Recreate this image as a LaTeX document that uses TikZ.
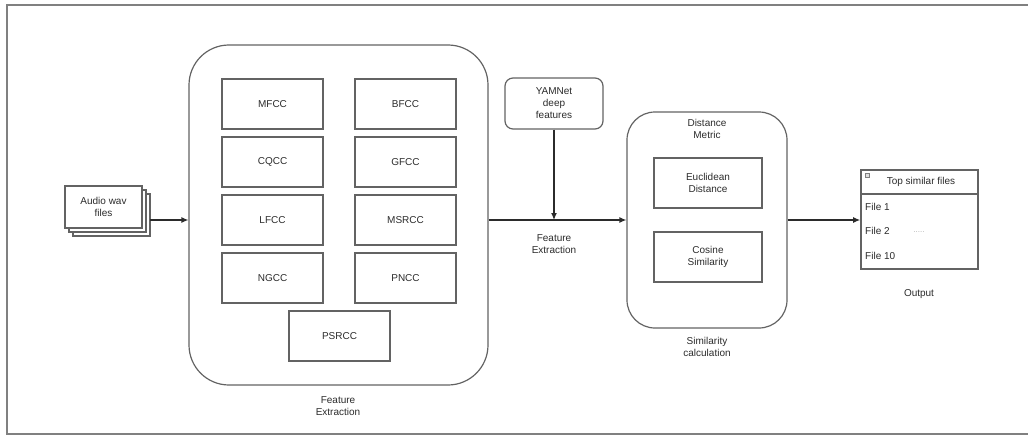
\documentclass[tikz,border=0pt]{standalone}
\usepackage{fontspec}
\setmainfont{Liberation Sans}
\usetikzlibrary{arrows.meta}
\definecolor{edge}{HTML}{636363}
\definecolor{ink}{HTML}{2B2B2B}
\tikzset{
	fbox/.style={draw=edge, line width=1.6pt, minimum width=101pt, minimum height=50pt, inner sep=0pt},
	grp/.style={draw=edge, line width=1.2pt, rounded corners=#1, inner sep=0pt},
	lbl/.style={align=center, text=ink, inner sep=0pt},
	flow/.style={draw=ink, line width=1.2pt, -{Latex[length=7pt,width=6pt]}},
}
\begin{document}
\begin{tikzpicture}[x=1pt, y=-1pt, font=\fontsize{10}{12}\selectfont]
	\useasboundingbox (0, 0) rectangle (1028, 436);
	\draw[gray, line width=1.6pt] (1030, 5) -- (7, 5) -- (7, 434) -- (1030, 434);
	\coordinate (axis) at (0, 220);

	\foreach \d in {8, 4}{
		\node[fbox, fill=white, line width=1.2pt, minimum width=77pt, minimum height=42pt] at (103.5 + \d, 207 + \d) {};
	}
	\node[fbox, fill=white, line width=1.2pt, minimum width=77pt, minimum height=42pt, align=center, text=ink] (audio) at (103.5, 207) {Audio wav\\files};
	\coordinate (audioout) at (150, 220);

	\node[grp=40pt, minimum width=299pt, minimum height=340pt] (fe) at (338.5, 215) {};
	\foreach \a/\b [count=\i] in {MFCC/BFCC, CQCC/GFCC, LFCC/MSRCC, NGCC/PNCC}{
		\node[fbox, text=ink] (l\i) at (272.5, 46 + 58*\i) {\a};
		\node[fbox, text=ink] (r\i) at (405.5, 46 + 58*\i) {\b};
	}
	\node[fbox, text=ink] (psrcc) at (339.5, 336) {PSRCC};
	\node[lbl] (felbl) at (338, 406) {Feature\\Extraction};

	\node[grp=8pt, minimum width=98pt, minimum height=51pt, align=center, text=ink] (yam) at (554, 103.5) {YAMNet\\deep\\features};
	\node[lbl] (midlbl) at (554, 244) {Feature\\Extraction};

	\node[grp=28pt, minimum width=160pt, minimum height=216pt] (dm) at (707, 220) {};
	\node[lbl] (dmlbl) at (707, 128.5) {Distance\\Metric};
	\node[fbox, line width=1.4pt, minimum width=108pt, text=ink, align=center] (euc) at (708, 183) {Euclidean\\Distance};
	\node[fbox, line width=1.4pt, minimum width=108pt, text=ink, align=center] (cos) at (708, 257) {Cosine\\Similarity};
	\node[lbl] (simlbl) at (707, 347) {Similarity\\calculation};

	\node[fbox, minimum width=117pt, minimum height=99pt] (out) at (919.5, 219.5) {};
	\draw[edge, line width=1.6pt] (out.west |- 0, 194) -- (out.east |- 0, 194);
	\node[draw=gray, fill=gray!25, line width=0.4pt, minimum size=4pt, inner sep=0pt] (icon) at (867, 175.5) {};
	\node[lbl] (head) at (921, 182) {Top similar files};
	\node[lbl, anchor=west] (f1) at (865, 207) {File 1};
	\node[lbl, anchor=west] (f2) at (865, 231) {File 2};
	\node[lbl, anchor=west] (f3) at (865, 256) {File 10};
	\node[lbl, text=gray!60, font=\fontsize{8}{9}\selectfont] (dots) at (919, 232) {.....};
	\node[lbl] (outlbl) at (919, 294) {Output};

	\draw[flow] (audioout) -- (fe.west |- axis);
	\draw[flow] (fe.east |- axis) -- (dm.west |- axis);
	\draw[flow] (yam.south) -- (yam.south |- axis);
	\draw[flow] (dm.east |- axis) -- (out.west |- axis);
\end{tikzpicture}
\end{document}
